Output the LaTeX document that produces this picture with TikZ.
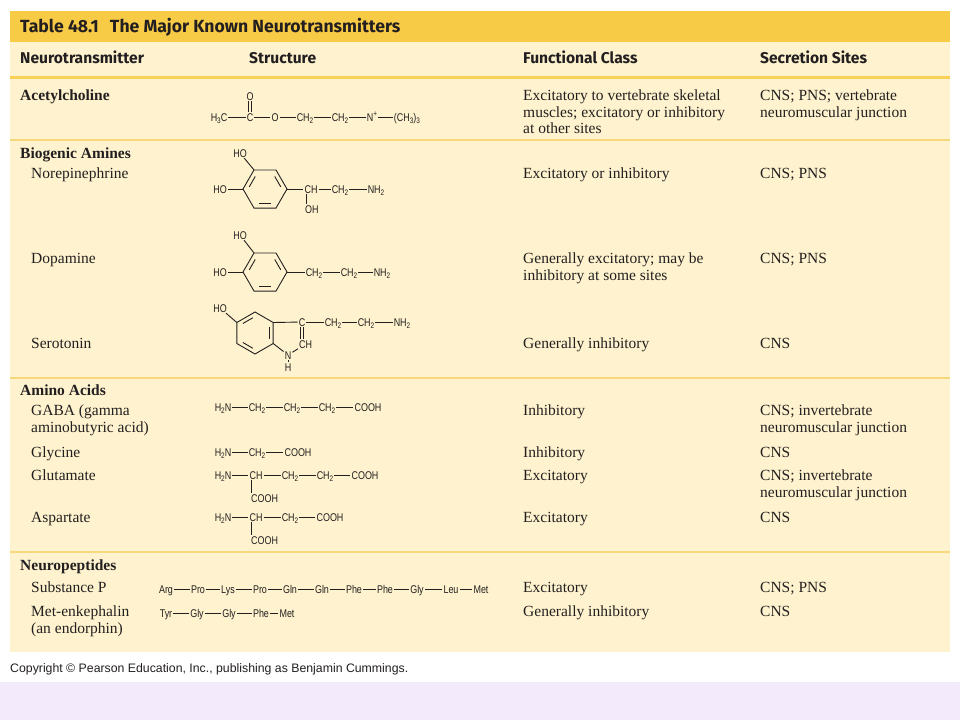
\documentclass[tikz,border=0pt]{standalone}
\usepackage{fontspec}
\setmainfont{Liberation Serif}
\newfontfamily\headfont{Fira Sans}
\newfontfamily\chemfont[FakeStretch=0.8]{Liberation Sans}
\newfontfamily\notefont{Liberation Sans}
\newcommand\ssub[1]{\raisebox{-0.45ex}{\fontsize{8}{8}\selectfont #1}}
\newcommand\ssup[1]{\raisebox{0.75ex}{\fontsize{8}{8}\selectfont #1}}
\definecolor{tabgold}{RGB}{248,203,70}
\definecolor{tabcream}{RGB}{254,243,206}
\definecolor{tabline}{RGB}{247,216,125}
\definecolor{headline}{RGB}{249,208,88}
\definecolor{lavender}{RGB}{243,234,251}
\definecolor{ink}{RGB}{35,31,32}
\tikzset{
  txt/.style={anchor=base west, inner sep=0pt, text=ink, font=\fontsize{15.5}{18}\selectfont},
  grp/.style={txt, font=\fontsize{15.5}{18}\selectfont\bfseries},
  colhead/.style={anchor=base west, inner sep=0pt, text=ink, font=\headfont\fontsize{15.6}{18}\selectfont\bfseries},
  atom/.style={inner sep=1pt, text height=8pt, text depth=0pt, text=ink, font=\chemfont\fontsize{11.2}{11.2}\selectfont},
  bond/.style={draw=ink, line width=0.9pt},
  inbond/.style={bond, shorten <=2.5pt, shorten >=2.5pt},
  rowline/.style={draw=tabline, line width=1.5pt}
}
\begin{document}
\begin{tikzpicture}[x=1pt,y=-1pt]
\useasboundingbox (0,0) rectangle (960,720);
\fill[white] (0,0) rectangle (960,720);
\fill[lavender] (0,682) rectangle (960,720);
\fill[tabgold] (10,11) rectangle (950,42);
\fill[tabcream] (10,42) rectangle (950,652);
\draw[headline, line width=3pt] (10,77.5) -- (950,77.5);
\foreach \py in {140,378,552}
  \draw[rowline] (10,\py) -- (950,\py);

% title and column heads
\node[colhead, font=\headfont\fontsize{17.6}{20}\selectfont\bfseries] (title) at (20,32) {Table 48.1\hspace{0.4em} The Major Known Neurotransmitters};
\foreach \px/\t [count=\i] in {20/Neurotransmitter, 249/Structure, 523/Functional Class, 760/Secretion Sites}
  \node[colhead] (hd\i) at (\px,63) {\t};

% first column
\foreach \py/\t [count=\i] in {100/Acetylcholine, 158/Biogenic Amines, 395/Amino Acids, 570/Neuropeptides}
  \node[grp] (grp\i) at (20,\py) {\t};
\foreach \py/\t [count=\i] in {178/Norepinephrine, 263/Dopamine, 348/Serotonin, 415/GABA (gamma, 432/aminobutyric acid), 457/Glycine, 480/Glutamate, 522/Aspartate, 592/Substance P, 616/Met-enkephalin, 633/(an endorphin)}
  \node[txt] (nt\i) at (31,\py) {\t};

% functional class
\foreach \py/\t [count=\i] in {100/Excitatory to vertebrate skeletal, 117/muscles; excitatory or inhibitory, 133/at other sites, 178/Excitatory or inhibitory, 263/Generally excitatory; may be, 280/inhibitory at some sites, 348/Generally inhibitory, 415/Inhibitory, 457/Inhibitory, 480/Excitatory, 522/Excitatory, 592/Excitatory, 616/Generally inhibitory}
  \node[txt] (fc\i) at (523,\py) {\t};

% secretion sites
\foreach \py/\t [count=\i] in {100/CNS; PNS; vertebrate, 117/neuromuscular junction, 178/CNS; PNS, 263/CNS; PNS, 348/CNS, 415/CNS; invertebrate, 432/neuromuscular junction, 457/CNS, 480/CNS; invertebrate, 497/neuromuscular junction, 522/CNS, 592/CNS; PNS, 616/CNS}
  \node[txt] (ss\i) at (760,\py) {\t};

% acetylcholine
\foreach \px/\lab [count=\i] in {219/H\ssub{3}C, 250/C, 275/O, 305/CH\ssub{2}, 340/CH\ssub{2}, 372/N\ssup{+}, 407/(CH\ssub{3})\ssub{3}}
  \node[atom] (ac\i) at (\px,117) {\lab};
\foreach \i [remember=\i as \k (initially 1)] in {2,...,7}
  \draw[bond] (ac\k) -- (ac\i);
\node[atom] (acO) at (250,96) {O};
\draw[bond] ([xshift=-1.3pt]ac2.north) -- ([xshift=-1.3pt]acO.south);
\draw[bond] ([xshift=1.3pt]ac2.north) -- ([xshift=1.3pt]acO.south);

% norepinephrine
\begin{scope}[shift={(265,189)}]
  \foreach \k [evaluate=\k as \a using (\k-1)*60] in {1,...,6} {
    \coordinate (ne\k) at (\a:22);
    \coordinate (ni\k) at (\a:17);
  }
\end{scope}
\draw[bond] (ne1) -- (ne2) -- (ne3) -- (ne4) -- (ne5) -- (ne6) -- cycle;
\foreach \a/\b in {ni4/ni5, ni6/ni1, ni2/ni3}
  \draw[inbond] (\a) -- (\b);
\node[atom] (neHOa) at (240,153) {HO};
\node[atom] (neHOb) at (220,189) {HO};
\draw[bond] (ne5) -- (neHOa);
\draw[bond] (ne4) -- (neHOb);
\foreach \px/\lab [count=\i] in {311/CH, 340/CH\ssub{2}, 376/NH\ssub{2}}
  \node[atom] (nc\i) at (\px,189) {\lab};
\draw[bond] (ne1) -- (nc1) -- (nc2) -- (nc3);
\node[atom, anchor=west] (neOH) at (304,209) {OH};
\draw[bond] ([xshift=3pt]nc1.south west) -- ([xshift=3pt]nc1.south west |- neOH.north);

% dopamine
\begin{scope}[shift={(265,272)}]
  \foreach \k [evaluate=\k as \a using (\k-1)*60] in {1,...,6} {
    \coordinate (dp\k) at (\a:22);
    \coordinate (di\k) at (\a:17);
  }
\end{scope}
\draw[bond] (dp1) -- (dp2) -- (dp3) -- (dp4) -- (dp5) -- (dp6) -- cycle;
\foreach \a/\b in {di4/di5, di6/di1, di2/di3}
  \draw[inbond] (\a) -- (\b);
\node[atom] (dpHOa) at (240,235) {HO};
\node[atom] (dpHOb) at (220,272) {HO};
\draw[bond] (dp5) -- (dpHOa);
\draw[bond] (dp4) -- (dpHOb);
\foreach \px/\lab [count=\i] in {314/CH\ssub{2}, 349/CH\ssub{2}, 382/NH\ssub{2}}
  \node[atom] (dc\i) at (\px,272) {\lab};
\draw[bond] (dp1) -- (dc1) -- (dc2) -- (dc3);

% serotonin
\begin{scope}[shift={(255,333)}]
  \foreach \k [evaluate=\k as \a using (\k-1)*60+30] in {1,...,6} {
    \coordinate (sr\k) at (\a:21);
    \coordinate (si\k) at (\a:16.5);
  }
\end{scope}
\draw[bond] (sr1) -- (sr2) -- (sr3) -- (sr4) -- (sr5) -- (sr6) -- cycle;
\foreach \a/\b in {si6/si1, si2/si3, si4/si5}
  \draw[inbond] (\a) -- (\b);
\node[atom] (srHO) at (220,308) {HO};
\draw[bond] (sr4) -- (srHO);
\node[atom] (sC) at (302,322) {C};
\node[atom, anchor=west] (sCH) at (298,344) {CH};
\node[atom] (sN) at (288,355) {N};
\node[atom] (sH) at (288,367) {H};
\draw[bond] (sr6) -- (sC);
\draw[bond] ([xshift=-1.3pt]sC.south) -- ([xshift=-1.3pt]sC.south |- sCH.north);
\draw[bond] ([xshift=1.3pt]sC.south) -- ([xshift=1.3pt]sC.south |- sCH.north);
\draw[bond] (sCH) -- (sN) -- (sr1);
\draw[bond] (sN) -- (sH);
\foreach \px/\lab [count=\i] in {333/CH\ssub{2}, 366/CH\ssub{2}, 402/NH\ssub{2}}
  \node[atom] (sc\i) at (\px,322) {\lab};
\draw[bond] (sC) -- (sc1) -- (sc2) -- (sc3);

% amino acids
\foreach \px/\lab [count=\i] in {223/H\ssub{2}N, 257/CH\ssub{2}, 292/CH\ssub{2}, 327/CH\ssub{2}, 368/COOH}
  \node[atom] (ga\i) at (\px,407) {\lab};
\draw[bond] (ga1) -- (ga2) -- (ga3) -- (ga4) -- (ga5);
\foreach \px/\lab [count=\i] in {223/H\ssub{2}N, 257/CH\ssub{2}, 298/COOH}
  \node[atom] (gl\i) at (\px,452) {\lab};
\draw[bond] (gl1) -- (gl2) -- (gl3);
\foreach \px/\lab [count=\i] in {223/H\ssub{2}N, 256/CH, 290/CH\ssub{2}, 325/CH\ssub{2}, 365/COOH}
  \node[atom] (gu\i) at (\px,475) {\lab};
\draw[bond] (gu1) -- (gu2) -- (gu3) -- (gu4) -- (gu5);
\node[atom, anchor=west] (guC) at (250,498) {COOH};
\draw[bond] ([xshift=3pt]gu2.south west) -- ([xshift=3pt]gu2.south west |- guC.north);
\foreach \px/\lab [count=\i] in {223/H\ssub{2}N, 256/CH, 290/CH\ssub{2}, 330/COOH}
  \node[atom] (as\i) at (\px,517) {\lab};
\draw[bond] (as1) -- (as2) -- (as3) -- (as4);
\node[atom, anchor=west] (asC) at (250,540) {COOH};
\draw[bond] ([xshift=3pt]as2.south west) -- ([xshift=3pt]as2.south west |- asC.north);

% neuropeptides
\foreach \px/\lab [count=\i] in {166/Arg, 198/Pro, 228/Lys, 260/Pro, 290/Gln, 322/Gln, 354/Phe, 385/Phe, 417/Gly, 451/Leu, 481/Met}
  \node[atom] (sp\i) at (\px,589) {\lab};
\foreach \i [remember=\i as \k (initially 1)] in {2,...,11}
  \draw[bond] (sp\k) -- (sp\i);
\foreach \px/\lab [count=\i] in {166/Tyr, 197/Gly, 229/Gly, 261/Phe, 287/Met}
  \node[atom] (me\i) at (\px,613) {\lab};
\foreach \i [remember=\i as \k (initially 1)] in {2,...,5}
  \draw[bond] (me\k) -- (me\i);

\node[anchor=base west, inner sep=0pt, text=ink, font=\notefont\fontsize{12.3}{14}\selectfont] (copy) at (10,672) {Copyright © Pearson Education, Inc., publishing as Benjamin Cummings.};
\end{tikzpicture}
\end{document}
